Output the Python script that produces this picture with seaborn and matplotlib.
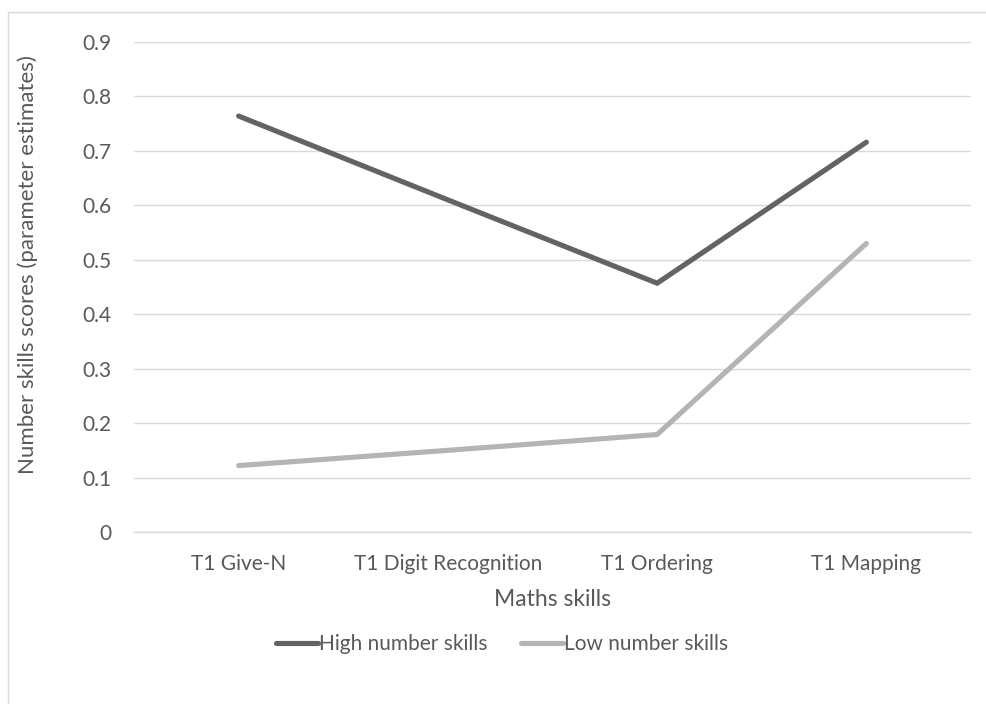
import matplotlib
matplotlib.use("Agg")
import matplotlib.pyplot as plt
import seaborn as sns
import pandas as pd
from matplotlib.lines import Line2D
from matplotlib.patches import Rectangle

categories = ["T1 Give-N", "T1 Digit Recognition", "T1 Ordering", "T1 Mapping"]
high_scores = [0.764, 0.610, 0.457, 0.716]
low_scores = [0.122, 0.150, 0.179, 0.530]
series_names = ["High number skills", "Low number skills"]
y_ticks = [0, 0.1, 0.2, 0.3, 0.4, 0.5, 0.6, 0.7, 0.8, 0.9]
y_tick_labels = ["0", "0.1", "0.2", "0.3", "0.4", "0.5", "0.6", "0.7", "0.8", "0.9"]

df = pd.DataFrame({
    "skill": categories * 2,
    "pos": list(range(len(categories))) * 2,
    "score": high_scores + low_scores,
    "group": [series_names[0]] * len(categories) + [series_names[1]] * len(categories),
})

sns.set_theme(style="white")
plt.rcParams["font.family"] = ["Lato", "DejaVu Sans"]

text_color = "#595959"
colors = {series_names[0]: "#636363", series_names[1]: "#b4b4b4"}

fig = plt.figure(figsize=(9.87, 7.04), dpi=100)
ax = fig.add_axes([134 / 987, 1 - 532 / 704, (971 - 134) / 987, (532 - 42) / 704])

# chart frame
fig.patches.append(Rectangle((8 / 987, -0.05), 1.2, 1 - 12 / 704 + 0.05,
                             transform=fig.transFigure, fill=False,
                             edgecolor="#d9d9d9", linewidth=1.0, zorder=0))

sns.lineplot(data=df, x="pos", y="score", hue="group", palette=colors,
             linewidth=3.7, ax=ax, legend=False, sort=False)
for line in ax.lines:
    line.set_solid_capstyle("round")
    line.set_solid_joinstyle("miter")

ax.set_xlim(-0.5, len(categories) - 0.5)
ax.set_ylim(0, 0.9)
ax.set_yticks(y_ticks)
ax.set_yticklabels(y_tick_labels)
ax.set_xticks(range(len(categories)))
ax.set_xticklabels(categories)
ax.grid(axis="y", color="#d9d9d9", linewidth=1.0)
ax.set_axisbelow(True)
for side in ["top", "right", "left"]:
    ax.spines[side].set_visible(False)
ax.spines["bottom"].set_color("#d9d9d9")
ax.spines["bottom"].set_linewidth(1.0)
ax.tick_params(axis="both", length=0, labelsize=15, colors=text_color)
ax.tick_params(axis="x", pad=16)
ax.tick_params(axis="y", pad=16)

ax.set_xlabel("Maths skills", fontsize=16.5, color=text_color, labelpad=11)
ax.set_ylabel("Number skills scores (parameter estimates)", fontsize=16,
              color=text_color)
ax.yaxis.set_label_coords((38 - 134) / 837, (532 - 265) / 490)

handles = [Line2D([0], [0], color=colors[n], linewidth=3.7) for n in series_names]
fig.legend(handles, series_names, loc="center", bbox_to_anchor=(502 / 987, 1 - 644 / 704),
           ncol=2, frameon=False, fontsize=15, labelcolor=text_color,
           handlelength=2.0, handletextpad=0.05, columnspacing=1.6)

fig.savefig("out.png", dpi=100, facecolor="white")
